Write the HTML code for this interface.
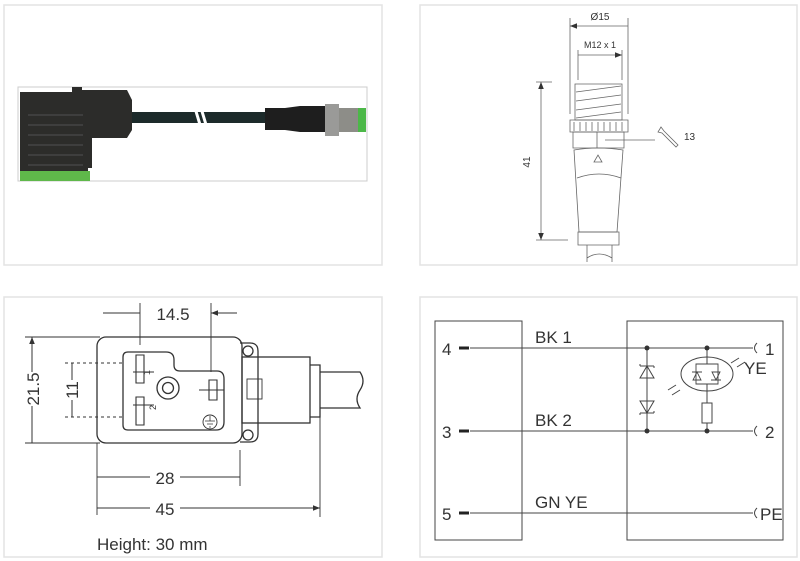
<!DOCTYPE html>
<html><head><meta charset="utf-8"><style>
html,body{margin:0;padding:0;background:#fff;width:800px;height:561px;overflow:hidden}
svg{display:block}
text{font-family:"Liberation Sans",sans-serif;fill:#333}
</style></head><body>
<svg width="800" height="561" viewBox="0 0 800 561">
<defs>
<marker id="a" viewBox="0 0 10 10" refX="10" refY="5" markerWidth="9" markerHeight="7" orient="auto-start-reverse" markerUnits="userSpaceOnUse"><path d="M0,1 L10,5 L0,9 z" fill="#333"/></marker>
</defs>
<g fill="none" stroke="#e3e3e3" stroke-width="1.5">
<rect x="4" y="5" width="378" height="260"/>
<rect x="420" y="5" width="377" height="260"/>
<rect x="4" y="297" width="378" height="260"/>
<rect x="420" y="297" width="377" height="260"/>
</g>
<!-- photo -->
<rect x="18" y="87" width="349" height="94" fill="#fff" stroke="#ccc"/>
<rect x="132" y="112" width="135" height="11" fill="#1c2a2a"/>
<path d="M195,108 l6,20 M201,108 l6,20" stroke="#fff" stroke-width="3"/>
<path d="M20,92 h52 v-5 h10 v3 h45 l5,10 v30 l-5,8 h-35 v30 h-4 v12 H20 z" fill="#2c2c2a"/>
<g stroke="#444" stroke-width="1.5"><path d="M28,115 h55 M28,125 h55 M28,135 h55 M28,145 h55 M28,155 h55 M28,165 h55"/></g>
<rect x="20" y="171" width="70" height="10" fill="#5fb84a"/>
<path d="M265,108 h20 l15,-2 h26 v26 h-26 l-15,-2 h-20 z" fill="#1e1e1e"/>
<rect x="325" y="104" width="14" height="32" fill="#9a9a98"/>
<rect x="339" y="108" width="22" height="24" fill="#8d8d88"/>
<rect x="358" y="108" width="8" height="24" fill="#4cb848"/>
<!-- top right drawing -->
<g stroke="#666" stroke-width="0.8" fill="none">
<path d="M570,18 V114 M628,18 V114 M578,50 V80 M622,50 V80"/>
<path d="M570,26 H628 M578,55 H622" marker-start="url(#a)" marker-end="url(#a)"/>
<path d="M541,82 V240" marker-start="url(#a)" marker-end="url(#a)"/>
<path d="M536,82 H552 M536,240 H568"/>
<path d="M575,84 h47 v36 h-47 z"/>
<path d="M576,92 L621,86 M576,101 L621,95 M576,110 L621,104 M576,118 L621,112"/>
<path d="M570,120 h58 v12 h-58 z M574,122 v9 M580,122 v9 M586,122 v9 M592,122 v9 M598,122 v9 M604,122 v9 M610,122 v9 M616,122 v9 M622,122 v9"/>
<path d="M573,132 h51 v16 h-51 z M597,132 v16"/>
<path d="M605,140 H655"/>
<path d="M574,150 q24,-4 49,0 L617,232 h-38 z"/>
<path d="M577,178 q22,-8 44,0"/>
<path d="M594,162 l4,-7 l4,7 z"/>
<path d="M578,232 h41 v13 h-41 z M587,245 v17 M612,245 v17 M587,258 q12,-8 25,0"/>
<path d="M661,127 l3,4 l14,14 l-2,2 l-14,-14 l-4,-1 z"/>
</g>
<text x="600" y="20" font-size="10" text-anchor="middle">Ø15</text>
<text x="600" y="48" font-size="9" text-anchor="middle">M12 x 1</text>
<text x="684" y="140" font-size="10">13</text>
<text x="530" y="162" font-size="10" text-anchor="middle" transform="rotate(-90 530 162)">41</text>
<!-- bottom left -->
<g stroke="#333" stroke-width="1.3" fill="none">
<path d="M320,372 h40 q6,9 0,18 q-6,9 0,18 h-40"/>
<path d="M310,365 h10 v52 h-10"/>
<rect x="242" y="357" width="68" height="66"/>
<rect x="247" y="379" width="15" height="20" stroke-width="0.9"/>
<path d="M240,343 h10 q8,0 8,8 v83 q0,8 -8,8 h-10"/>
<circle cx="248" cy="351" r="5"/><circle cx="248" cy="435" r="5"/>
<rect x="97" y="337" width="145" height="106" rx="9"/>
<path d="M128,352 h38 q8,0 8,8 v5 q0,6 6,6 h37 q7,0 7,8 v43 q0,8 -8,8 H128 q-5,0 -5,-5 V357 q0,-5 5,-5 z"/>
<circle cx="168" cy="388" r="11"/><circle cx="168" cy="388" r="5.5"/>
<path d="M136,355 h8 v28 h-8 z M133,372 h21 M136,397 h8 v28 h-8 z M133,405 h21 M199,390 h25 M209,380 h8 v20 h-8 z" stroke-width="1.1"/>
<circle cx="210" cy="422" r="7" stroke-width="0.9"/>
<path d="M210,416 v5 M205,421 h10 M207,424 h6 M209,427 h2" stroke-width="0.8"/>
<path d="M65,363 H123 M65,417 H123" stroke-dasharray="3,3" stroke-width="0.9"/>
<path d="M25,337 H100 M25,443 H100 M140,303 V345 M211,303 V372" stroke-width="0.9"/>
<path d="M97,443 V515 M240,450 V486 M320,415 V517" stroke-width="0.9"/>
<path d="M32,337 V443 M72,363 V417 M97,477 H240 M97,508 H320" stroke-width="1" marker-start="url(#a)" marker-end="url(#a)"/>
<path d="M103,313 H140 M237,313 H211" stroke-width="1" marker-end="url(#a)"/>
</g>
<rect x="22" y="372" width="18" height="34" fill="#fff"/>
<rect x="62" y="380" width="20" height="20" fill="#fff"/>
<rect x="150" y="468" width="30" height="20" fill="#fff"/>
<rect x="150" y="499" width="30" height="20" fill="#fff"/>
<text x="173" y="320" font-size="17" text-anchor="middle">14.5</text>
<text x="39" y="389" font-size="17" text-anchor="middle" transform="rotate(-90 39 389)">21.5</text>
<text x="78" y="390" font-size="17" text-anchor="middle" transform="rotate(-90 78 390)">11</text>
<text x="165" y="484" font-size="17" text-anchor="middle">28</text>
<text x="165" y="515" font-size="17" text-anchor="middle">45</text>
<text x="97" y="550" font-size="17">Height: 30 mm</text>
<text x="150" y="375" font-size="9" transform="rotate(-90 150 375)">1</text>
<text x="156" y="410" font-size="9" transform="rotate(-90 156 410)">2</text>
<!-- bottom right -->
<g stroke="#444" stroke-width="1" fill="none">
<rect x="435" y="321" width="87" height="219"/>
<rect x="627" y="321" width="156" height="219"/>
<path d="M470,348 H753 M470,431 H753 M470,513 H753"/>
<path d="M647,348 V431 M707,348 V364 M707,384 V403 M707,423 V431"/>
<path d="M757,343 q-5,5 0,10 M757,426 q-5,5 0,10 M757,508 q-5,5 0,10"/>
<path d="M640,378 h14 l-7,-12 z M640,366 h14 M640,366 v-2 M654,366 v2"/>
<path d="M640,401 h14 l-7,12 z M640,413 h14 M640,413 v2 M654,413 v-2"/>
<ellipse cx="707" cy="374" rx="26" ry="17"/>
<path d="M696,364 h22 v20 h-22 z" stroke-width="0.9"/>
<path d="M693,380 h8 l-4,-8 z M692,372 h10 M712,372 h8 l-4,8 z M711,380 h10" stroke-width="0.9"/>
<rect x="702" y="403" width="10" height="20"/>
<path d="M731,363 l8,-5 M737,367 l8,-5 M676,385 l-8,5 M680,390 l-8,5"/>
</g>
<g stroke="#222" stroke-width="3"><path d="M459,348 h10 M459,431 h10 M459,513 h10"/></g>
<g fill="#333"><circle cx="647" cy="348" r="2.5"/><circle cx="707" cy="348" r="2.5"/><circle cx="647" cy="431" r="2.5"/><circle cx="707" cy="431" r="2.5"/></g>
<g font-size="17">
<text x="442" y="355">4</text><text x="442" y="438">3</text><text x="442" y="520">5</text>
<text x="535" y="343">BK 1</text><text x="535" y="426">BK 2</text><text x="535" y="508">GN YE</text>
<text x="765" y="355">1</text><text x="765" y="438">2</text><text x="760" y="520">PE</text>
<text x="744" y="374">YE</text>
</g>
</svg>
</body></html>
